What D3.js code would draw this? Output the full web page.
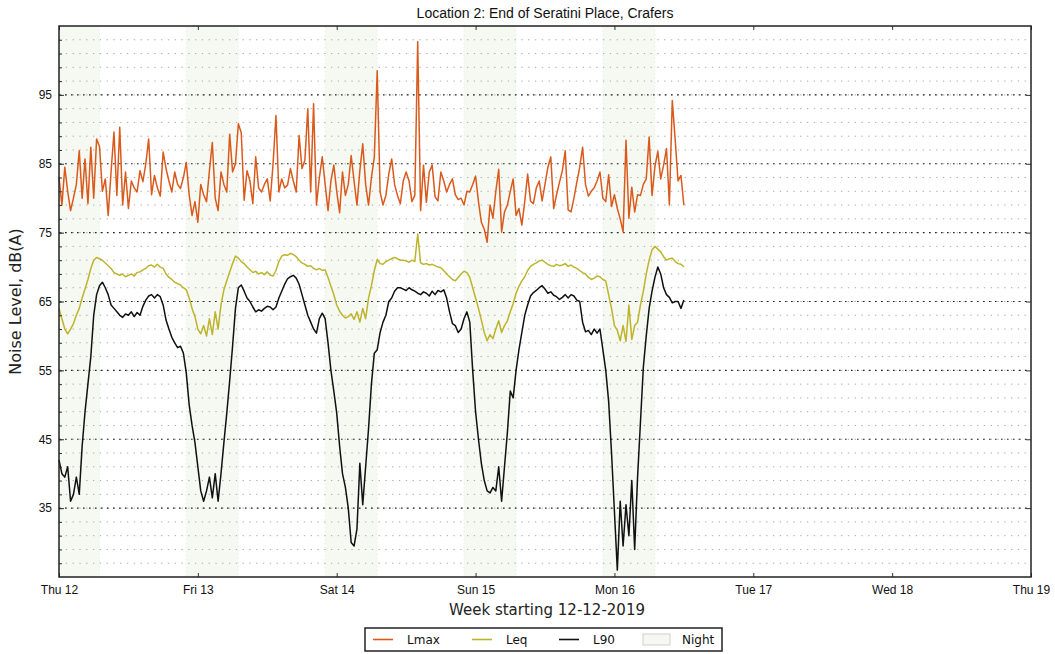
<!DOCTYPE html>
<html>
<head>
<meta charset="utf-8">
<script src="https://cdn.jsdelivr.net/npm/d3@7/dist/d3.min.js"></script>
<style>
body { margin: 0; background: #fff; }
text { font-family: "Liberation Sans", Arial, sans-serif; }
</style>
</head>
<body>
<svg id="chart" width="1055" height="654"></svg>
<script>
// readings every half hour from Thu 12 00:00
var dayLabels = ['Thu 12', 'Fri 13', 'Sat 14', 'Sun 15', 'Mon 16', 'Tue 17', 'Wed 18', 'Thu 19'];
var majorTicks = [35, 45, 55, 65, 75, 85, 95];
var nights = [[0, 7], [22, 31], [46, 55], [70, 79], [94, 103]]; // hours from start

var lmax = [
	83, 79, 84.5, 81, 78.2, 80, 82, 86.9,
	80, 85.7, 79.2, 87.4, 80, 88.6, 87.5, 81,
	82.8, 77.5, 83.8, 89.6, 80.4, 90.3, 79, 83.8,
	78.5, 82.5, 81.5, 80.9, 84, 82.4, 85, 88.6,
	80.5, 83.3, 81.5, 80.3, 86.7, 84.3, 82.5, 80.9,
	83.8, 82, 81.4, 83, 85.2, 80.5, 77.5, 79.5,
	76.5, 82, 80.5, 79.5, 84, 88.1, 80, 78.2,
	83.8, 82, 80.9, 89.3, 83.8, 85, 90.8, 89.5,
	79.7, 84, 82.5, 79.2, 86, 81.5, 80.9, 82,
	82.8, 79.6, 85, 92, 80.9, 82.8, 81.5, 81.9,
	84.3, 82.5, 80.9, 89.1, 84.3, 85.5, 93, 80.9,
	93.7, 79, 83, 86, 82, 78.2, 82.5, 84.8,
	81, 77.9, 83.8, 80.4, 82, 86.2, 82.5, 79,
	84, 87.9, 82, 79, 83, 86, 98.5, 80.9,
	79, 80.4, 83.5, 85.7, 82, 80.4, 79.2, 82.5,
	83.8, 82.5, 79.5, 80.4, 102.7, 78.2, 84.8, 79.4,
	83.8, 84.8, 80.2, 79.6, 83.8, 82.5, 80.9, 82,
	82.8, 80.5, 79.8, 80, 79, 81, 80.9, 82,
	83.2, 79.5, 76.5, 75.5, 73.6, 79, 77.1, 81,
	84.2, 75.1, 78, 79, 81, 82.8, 77.5, 78.5,
	76.1, 79.5, 83.5, 79.6, 79.2, 81.5, 82.5, 79.6,
	82, 84.5, 86, 78.5, 80.5, 82.3, 84, 86.9,
	78.3, 78, 80, 82.3, 84.5, 87.4, 82, 80.3,
	81, 81.5, 82.5, 83.8, 80, 79.5, 83.4, 78.8,
	80.5, 78.5, 77, 75.1, 88.4, 77.1, 81.6, 78,
	80.5, 80.4, 82, 82.8, 88.9, 80.4, 84.6, 86.8,
	82.8, 84.8, 87.2, 79, 94.2, 88.5, 82.5, 83.3,
	79
];

var leq = [
	64, 62.5, 61, 60.3, 61, 61.8, 63, 64,
	65.5, 66.8, 68.2, 69.8, 71, 71.4, 71.2, 71,
	70.6, 70.2, 69.8, 69.2, 69, 68.8, 69, 68.6,
	68.8, 69, 68.7, 69.2, 69.3, 69.6, 69.8, 70.2,
	70.3, 70, 70.4, 70, 69.8, 69, 68.5, 68.2,
	67.8, 67.6, 67.4, 67, 66.7, 65.5, 64, 62.8,
	61, 60.3, 61.5, 60, 62.5, 60.2, 63.5, 61,
	64.5, 66.7, 68, 69.3, 70.5, 71.6, 71.3, 70.8,
	70.5, 70, 69.6, 69.2, 69.4, 69, 69.2, 68.9,
	69.3, 68.8, 68.7, 69.5, 70.8, 71.6, 71.8, 71.7,
	72, 71.8, 71.5, 71, 70.6, 70.4, 70.1, 70.2,
	69.8, 69.6, 69.8, 69.5, 69.6, 68.5, 67.2, 66,
	64.5, 63.6, 63, 62.6, 62.8, 63.2, 62.4, 63.5,
	62, 64, 62.5, 65.5, 67.3, 69.5, 71.1, 70.5,
	70.4, 70.8, 71, 71.2, 71.4, 71.2, 71, 71,
	70.9, 70.7, 71, 70.8, 74.8, 70.6, 70.4, 70.5,
	70.3, 70.4, 70.2, 70, 69.9, 69.5, 69, 68.6,
	68.2, 68, 68.5, 69, 69.4, 69.2, 68.5, 67,
	65.5, 64, 62.3, 60.5, 59.3, 60.2, 59.6, 61,
	62.2, 60.5, 61.5, 62.2, 63.5, 64.7, 66.2, 67.2,
	68, 68.6, 69.5, 70.1, 70.4, 70.6, 70.9, 71,
	70.7, 70.4, 70.2, 70.1, 70.4, 70.2, 70.3, 70.5,
	70.1, 70.3, 70, 69.8, 69.5, 69.2, 69, 68.5,
	68.2, 68.4, 68.7, 68.6, 68.2, 68, 66, 64,
	61.5, 60.8, 59.3, 61.5, 59.2, 64.5, 59.5, 61.5,
	62, 64.5, 66.5, 69, 71, 72.5, 73, 72.6,
	72.2, 71.5, 71, 71.2, 71.3, 70.8, 70.5, 70.4,
	70
];

var l90 = [
	42, 40, 39.5, 41, 36, 37, 39.5, 37,
	44, 49, 53, 57, 63, 66, 67.3, 67.8,
	67, 66, 64.5, 64, 63.5, 63, 62.7, 63.2,
	63, 63.5, 62.8, 63.4, 63, 64.3, 65.2, 65.8,
	66, 65.5, 66, 65.7, 64.5, 62.3, 61, 59.8,
	59, 58.3, 58.5, 57.5, 54.6, 50, 47, 44.5,
	41, 37.5, 36, 37.5, 39.5, 36.5, 40, 36,
	40, 44.5, 48.8, 53.5, 58.5, 64, 67, 67.4,
	66.5, 65.5, 65, 64.2, 63.5, 63.8, 63.6, 64,
	64.3, 64.2, 63.8, 64.2, 65.5, 66.5, 67.5, 68.3,
	68.6, 68.8, 68.4, 67.5, 66, 64.5, 63, 62,
	61, 60.4, 62.5, 63.3, 62.5, 59, 55, 52,
	48.8, 44, 40, 38, 35, 30, 29.5, 32,
	41.5, 35.5, 41, 46.5, 53, 57.5, 58, 60.5,
	62, 63, 65, 65.5, 66.5, 67, 67, 66.8,
	66.6, 67, 66.7, 66.5, 66.2, 66, 66.4, 66.2,
	65.8, 66.5, 66, 66.6, 66.4, 66.7, 65.5, 63.5,
	61.8, 61.5, 60.5, 61, 62.5, 63.5, 62, 55,
	49, 45, 41.5, 39, 37.5, 37.2, 38, 37.5,
	41, 36, 41, 46, 52, 51, 55, 58,
	60.5, 63, 64.5, 65.8, 66.3, 66.6, 67, 67.3,
	66.8, 66.2, 66.4, 65.9, 65.7, 65.3, 65.6, 66,
	65.5, 66, 65.8, 65.2, 65, 62, 60.6, 60.8,
	60.2, 61, 60.4, 61, 58, 55, 50.5, 43,
	34.5, 26, 36, 29.5, 35.5, 31, 39, 29,
	39.5, 47.5, 55.5, 60, 64, 66.5, 68.5, 70,
	69, 67, 66, 65.6, 64.8, 65, 65, 64,
	65.2
];

var step = 0.5;

(function () {
	var svg = d3.select('#chart');
	var left = 59, right = 1031, plotTop = 26, plotBottom = 577;

	var x = d3.scaleLinear().domain([0, 168]).range([left, right]);
	var y = d3.scaleLinear().domain([25, 105]).range([plotBottom, plotTop]);

	// night shading
	svg.append('g').selectAll('rect')
		.data(nights)
		.enter().append('rect')
		.attr('x', function (d) { return x(d[0]); })
		.attr('y', plotTop)
		.attr('width', function (d) { return x(d[1]) - x(d[0]); })
		.attr('height', plotBottom - plotTop)
		.attr('fill', '#f6f8f2')
		.attr('stroke', '#e6e9e2')
		.attr('stroke-dasharray', '1,3');

	// minor grid every 2 dB
	var minor = d3.range(27, 104, 2);
	svg.append('g').selectAll('line')
		.data(minor)
		.enter().append('line')
		.attr('x1', left).attr('x2', right)
		.attr('y1', function (d) { return y(d); })
		.attr('y2', function (d) { return y(d); })
		.attr('stroke', '#a8a8a8')
		.attr('stroke-width', 1)
		.attr('stroke-dasharray', '1.3,5.5');

	svg.append('g').selectAll('line')
		.data(majorTicks)
		.enter().append('line')
		.attr('x1', left).attr('x2', right)
		.attr('y1', function (d) { return y(d); })
		.attr('y2', function (d) { return y(d); })
		.attr('stroke', '#222')
		.attr('stroke-width', 1.2)
		.attr('stroke-dasharray', '1.6,4.4');

	// lines
	var line = d3.line()
		.x(function (d, i) { return x(i * step); })
		.y(function (d) { return y(d); });

	var series = [
		{ name: 'Lmax', values: lmax, color: '#da5a1c' },
		{ name: 'Leq', values: leq, color: '#bdb42c' },
		{ name: 'L90', values: l90, color: '#111' }
	];

	svg.append('g').selectAll('path')
		.data(series)
		.enter().append('path')
		.attr('d', function (d) { return line(d.values); })
		.attr('fill', 'none')
		.attr('stroke', function (d) { return d.color; })
		.attr('stroke-width', 1.5)
		.attr('stroke-linejoin', 'round');

	// axes
	var dayTicks = d3.range(0, 169, 24);
	var xAxis = d3.axisBottom(x)
		.tickValues(dayTicks)
		.tickFormat(function (d, i) { return dayLabels[i]; })
		.tickSizeInner(-4).tickSizeOuter(0).tickPadding(8);
	var gx = svg.append('g').attr('transform', 'translate(0,' + plotBottom + ')').call(xAxis);

	var gxt = svg.append('g').attr('transform', 'translate(0,' + plotTop + ')')
		.call(d3.axisTop(x).tickValues(dayTicks).tickFormat('').tickSizeInner(-4).tickSizeOuter(0));

	var yAxis = d3.axisLeft(y)
		.tickValues(majorTicks)
		.tickSizeInner(-5).tickSizeOuter(0).tickPadding(7);
	var gy = svg.append('g').attr('transform', 'translate(' + left + ',0)').call(yAxis);

	var gym = svg.append('g').attr('transform', 'translate(' + left + ',0)')
		.call(d3.axisLeft(y).tickValues(minor).tickFormat('').tickSizeInner(-3).tickSizeOuter(0));

	var gyr = svg.append('g').attr('transform', 'translate(' + right + ',0)')
		.call(d3.axisRight(y).tickValues(majorTicks).tickFormat('').tickSizeInner(-5).tickSizeOuter(0));

	[gx, gxt, gy, gym, gyr].forEach(function (g) {
		g.select('.domain').remove();
		g.selectAll('line').attr('stroke', '#333');
		g.selectAll('text').attr('font-size', 12).attr('fill', '#111')
			.style('font-family', '"Liberation Sans", Arial, sans-serif');
	});

	svg.append('rect')
		.attr('x', left).attr('y', plotTop)
		.attr('width', right - left).attr('height', plotBottom - plotTop)
		.attr('fill', 'none').attr('stroke', '#222').attr('stroke-width', 1.5);

	// titles
	svg.append('text')
		.attr('x', (left + right) / 2).attr('y', 18)
		.attr('text-anchor', 'middle')
		.attr('font-size', 14).attr('fill', '#111')
		.text('Location 2: End of Seratini Place, Crafers');

	svg.append('text')
		.attr('x', (left + right) / 2 + 2).attr('y', 615)
		.attr('text-anchor', 'middle')
		.style('font-family', '"DejaVu Sans", sans-serif')
		.attr('font-size', 15).attr('fill', '#222')
		.text('Week starting 12-12-2019');

	svg.append('text')
		.attr('transform', 'translate(21,' + (plotTop + plotBottom) / 2 + ') rotate(-90)')
		.attr('text-anchor', 'middle')
		.style('font-family', '"DejaVu Sans", sans-serif')
		.attr('font-size', 16).attr('fill', '#222')
		.text('Noise Level, dB(A)');

	// legend
	var legend = svg.append('g');
	legend.append('rect')
		.attr('x', 365).attr('y', 628).attr('width', 357).attr('height', 23)
		.attr('fill', '#fff').attr('stroke', '#222').attr('stroke-width', 1.5);

	var legendItems = [
		{ name: 'Lmax', color: '#da5a1c', x: 373 },
		{ name: 'Leq', color: '#bdb42c', x: 472 },
		{ name: 'L90', color: '#111', x: 559 }
	];
	legendItems.forEach(function (d) {
		legend.append('line')
			.attr('x1', d.x).attr('x2', d.x + 20)
			.attr('y1', 639.5).attr('y2', 639.5)
			.attr('stroke', d.color).attr('stroke-width', 1.6);
		legend.append('text')
			.attr('x', d.x + 34).attr('y', 644)
			.style('font-family', '"DejaVu Sans", sans-serif')
			.attr('font-size', 12).attr('fill', '#111')
			.text(d.name);
	});
	legend.append('rect')
		.attr('x', 643).attr('y', 634).attr('width', 27).attr('height', 11)
		.attr('fill', '#f6f6f4').attr('stroke', '#cfcfcf');
	legend.append('text')
		.attr('x', 682).attr('y', 644)
		.style('font-family', '"DejaVu Sans", sans-serif')
		.attr('font-size', 12).attr('fill', '#111')
		.text('Night');
}());
</script>
</body>
</html>
